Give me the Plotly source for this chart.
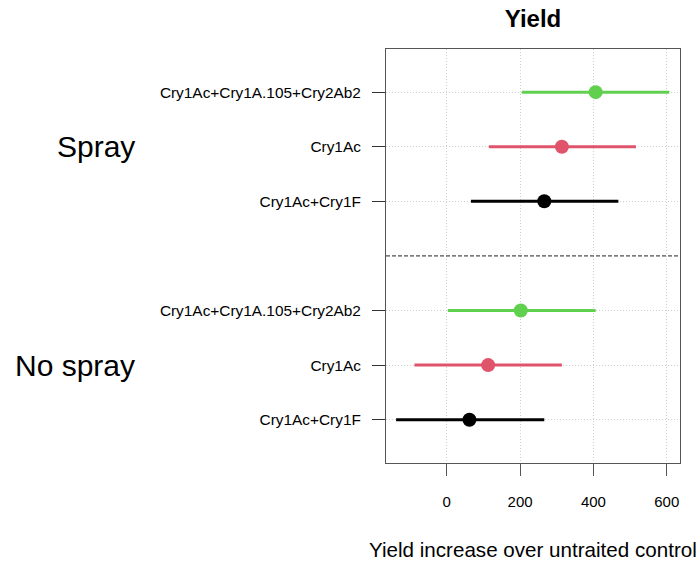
import plotly.graph_objects as go

# ---- data ----
groups = ["Spray", "No spray"]
treatments = ["Cry1Ac+Cry1A.105+Cry2Ab2", "Cry1Ac", "Cry1Ac+Cry1F"]
colors = ["#61D04F", "#DF536B", "#000000"]

spray_est = [406, 314, 266]
spray_lo = [205, 115, 66]
spray_hi = [607, 516, 468]

nospray_est = [202, 113, 62]
nospray_lo = [3, -88, -138]
nospray_hi = [406, 314, 266]

spray_rows = [7, 6, 5]
nospray_rows = [3, 2, 1]
separator_row = 4

x_ticks = [0, 200, 400, 600]
x_title = "Yield increase over untraited control"

FONT = "Liberation Sans, Arial, sans-serif"

fig = go.Figure()

def add_group(est, lo, hi, rows):
    for i in range(3):
        fig.add_trace(go.Scatter(
            x=[est[i]], y=[rows[i]], mode="markers",
            marker=dict(color=colors[i], size=14, line=dict(width=0)),
            error_x=dict(type="data", symmetric=False,
                         array=[hi[i] - est[i]], arrayminus=[est[i] - lo[i]],
                         color=colors[i], thickness=3, width=0),
            showlegend=False, hoverinfo="skip"))

add_group(spray_est, spray_lo, spray_hi, spray_rows)
add_group(nospray_est, nospray_lo, nospray_hi, nospray_rows)

fig.add_shape(type="line", xref="paper", yref="y", x0=0, x1=1,
              y0=separator_row, y1=separator_row,
              line=dict(color="#222222", width=1, dash="4px,2px"))

fig.add_annotation(text=groups[0], xref="paper", yref="y", x=-0.848, y=spray_rows[1],
                   xanchor="right", yanchor="middle", showarrow=False,
                   font=dict(size=30, family=FONT, color="black"))
fig.add_annotation(text=groups[1], xref="paper", yref="y", x=-0.848, y=nospray_rows[1],
                   xanchor="right", yanchor="middle", showarrow=False,
                   font=dict(size=30, family=FONT, color="black"))
fig.add_annotation(text=x_title, xref="paper", yref="paper", x=0.5, y=-0.210,
                   xanchor="center", yanchor="middle", showarrow=False,
                   font=dict(size=20.6, family=FONT, color="black"))

fig.update_layout(
    width=699, height=562,
    margin=dict(l=386, r=19, t=49, b=99),
    paper_bgcolor="white", plot_bgcolor="white",
    font=dict(family=FONT, color="black"),
    title=dict(text="<b>Yield</b>", x=0.5, xref="paper", xanchor="center",
               y=1 - 19 / 562, yanchor="middle", yref="container",
               font=dict(size=24, family=FONT, color="black")),
)

fig.update_xaxes(
    range=[-165.5, 636], tickvals=x_ticks, ticktext=[str(v) for v in x_ticks],
    ticks="outside", ticklen=12, tickcolor="#555555", tickwidth=1,
    tickfont=dict(size=15, family=FONT, color="black"), ticklabelstandoff=13,
    showgrid=True, gridcolor="#cfcfcf", griddash="1px,2px", gridwidth=1,
    zeroline=False, showline=True, linecolor="#555555", linewidth=1, mirror=True,
    automargin=False,
)
fig.update_yaxes(
    range=[0.207, 7.79],
    tickvals=spray_rows + nospray_rows, ticktext=treatments + treatments,
    ticks="outside", ticklen=13, tickcolor="#333333", tickwidth=1,
    tickfont=dict(size=15.4, family=FONT, color="black"), ticklabelstandoff=8,
    showgrid=True, gridcolor="#cfcfcf", griddash="1px,2px", gridwidth=1,
    zeroline=False, showline=True, linecolor="#555555", linewidth=1, mirror=True,
    automargin=False,
)

fig.write_html("out.html", config={"displayModeBar": False},
               post_script="document.body.style.margin='0';")
